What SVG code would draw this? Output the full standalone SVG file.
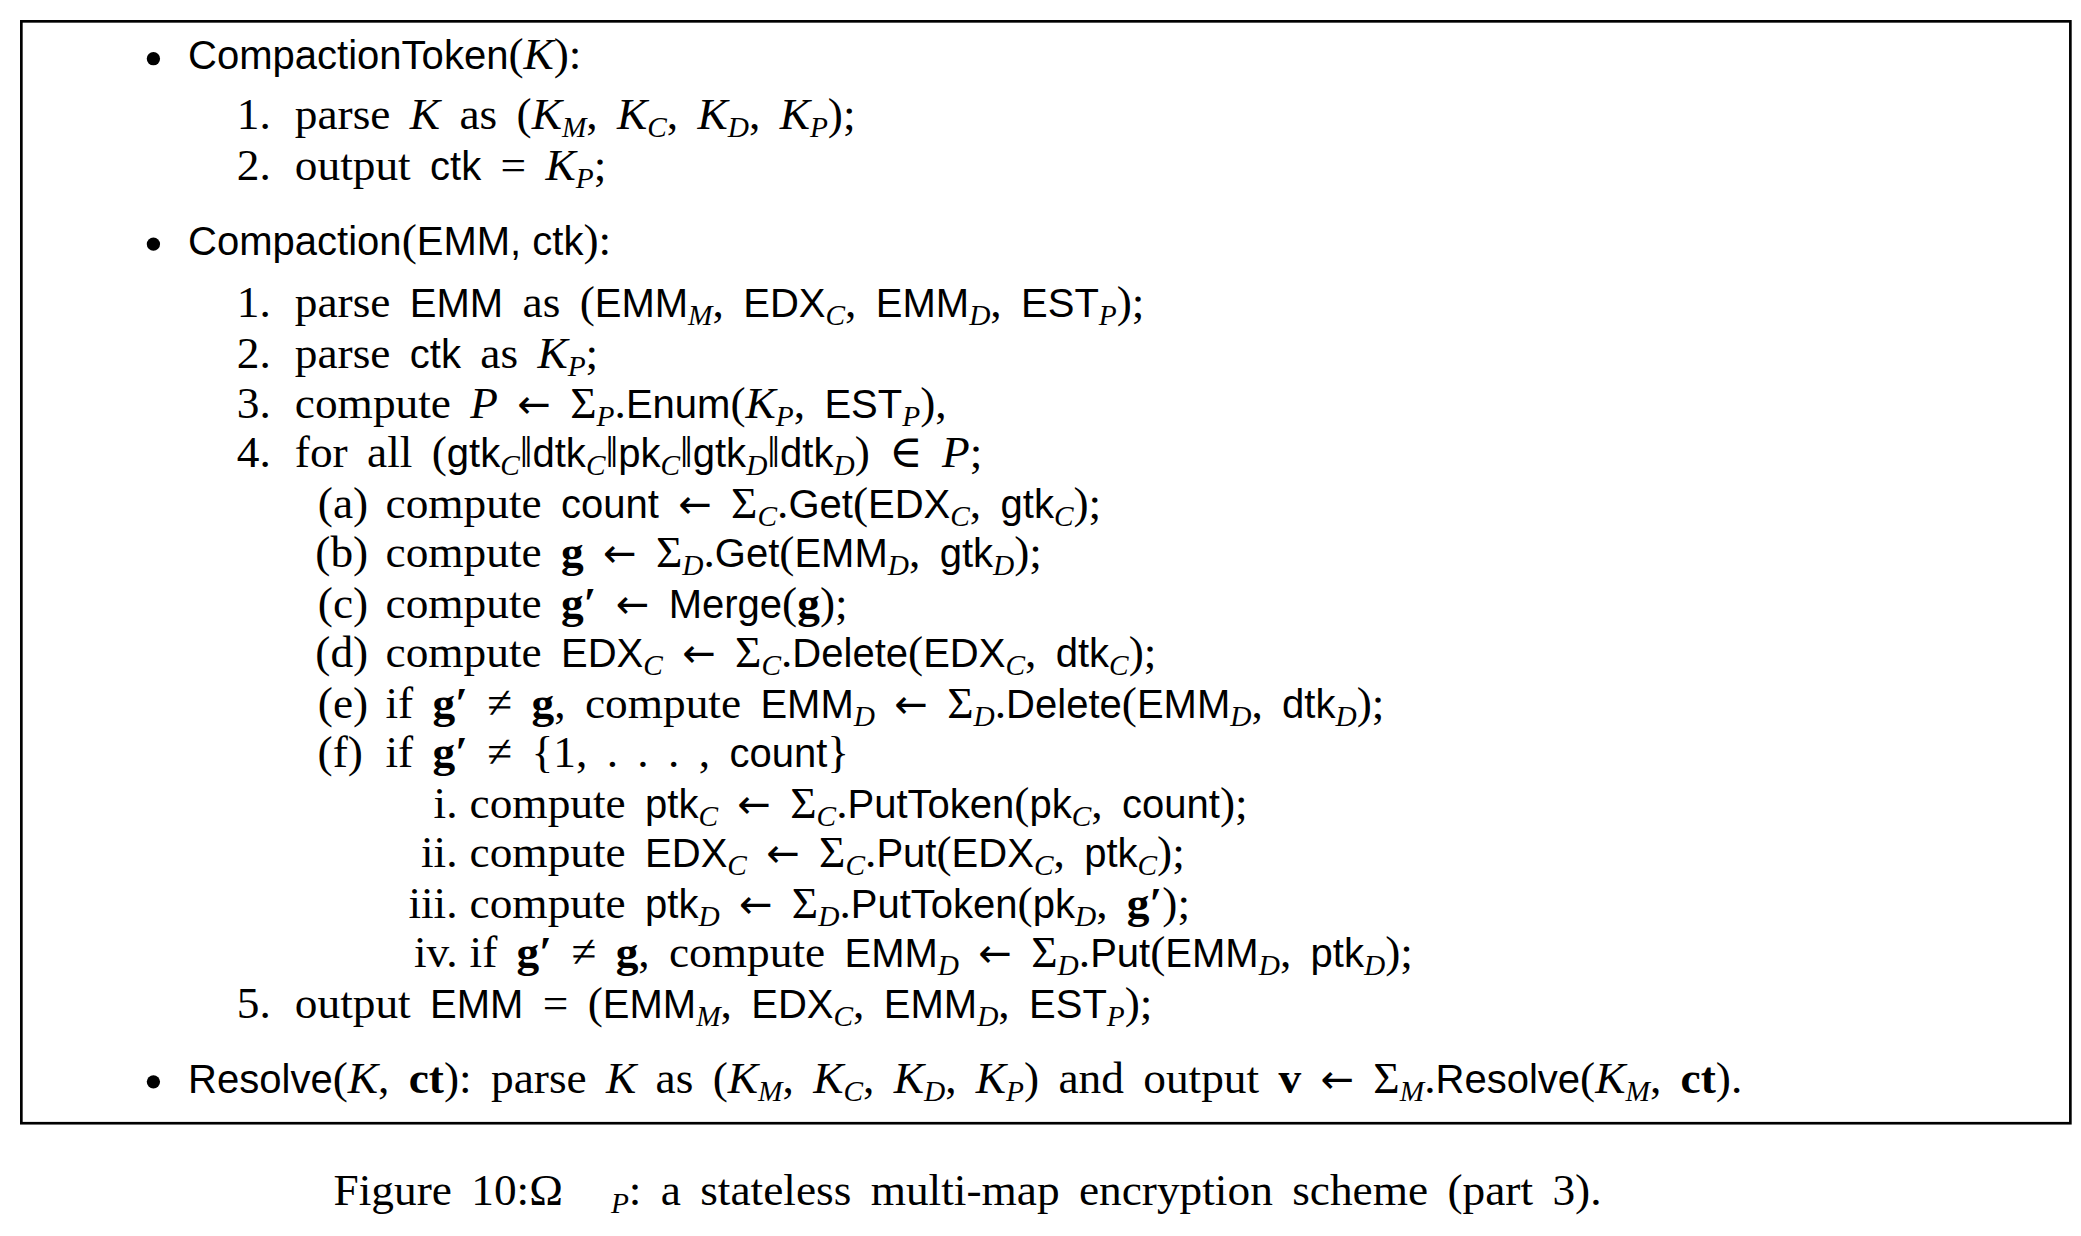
<svg xmlns="http://www.w3.org/2000/svg" width="2081" height="1236" viewBox="0 0 2081 1236">
<style>
text{font-family:"Liberation Serif","DejaVu Serif",serif;font-size:34px;fill:#000;word-spacing:6px}
.s{font-family:"Liberation Sans","DejaVu Sans",sans-serif;font-size:30px;word-spacing:0}
.i{font-style:italic}
.b{font-weight:bold}
.a{font-family:"DejaVu Sans",sans-serif;font-size:30px}
.sub{font-size:22px;baseline-shift:-6px;font-style:italic}
.n{text-anchor:end;word-spacing:0}
</style>
<rect width="2081" height="1236" fill="#fff"/>
<g transform="scale(1.334)">
<rect id="frame" x="16" y="16" width="1536" height="826" fill="none" stroke="#000" stroke-width="2"/>
<g id="bullets">
<circle cx="115" cy="44" r="5"/><circle cx="115" cy="183" r="5"/><circle cx="115" cy="811" r="5"/>
</g>
<g id="ctoken">
<text x="141" y="52"><tspan class="s">CompactionToken</tspan>(<tspan class="i">K</tspan>):</text>
<text class="n" x="203" y="97">1.</text>
<text x="221" y="97">parse <tspan class="i">K</tspan> as (<tspan class="i">K</tspan><tspan class="sub">M</tspan>, <tspan class="i">K</tspan><tspan class="sub">C</tspan>, <tspan class="i">K</tspan><tspan class="sub">D</tspan>, <tspan class="i">K</tspan><tspan class="sub">P</tspan>);</text>
<text class="n" x="203" y="135">2.</text>
<text x="221" y="135">output <tspan class="s">ctk</tspan> = <tspan class="i">K</tspan><tspan class="sub">P</tspan>;</text>
</g>
<g id="compaction">
<text x="141" y="191"><tspan class="s">Compaction</tspan>(<tspan class="s">EMM, ctk</tspan>):</text>
<text class="n" x="203" y="238">1.</text>
<text x="221" y="238">parse <tspan class="s">EMM</tspan> as (<tspan class="s">EMM</tspan><tspan class="sub">M</tspan>, <tspan class="s">EDX</tspan><tspan class="sub">C</tspan>, <tspan class="s">EMM</tspan><tspan class="sub">D</tspan>, <tspan class="s">EST</tspan><tspan class="sub">P</tspan>);</text>
<text class="n" x="203" y="276">2.</text>
<text x="221" y="276">parse <tspan class="s">ctk</tspan> as <tspan class="i">K</tspan><tspan class="sub">P</tspan>;</text>
<text class="n" x="203" y="313">3.</text>
<text x="221" y="313">compute <tspan class="i">P</tspan> <tspan class="a">←</tspan> Σ<tspan class="sub">P</tspan>.<tspan class="s">Enum</tspan>(<tspan class="i">K</tspan><tspan class="sub">P</tspan>, <tspan class="s">EST</tspan><tspan class="sub">P</tspan>),</text>
<text class="n" x="203" y="350">4.</text>
<text x="221" y="350">for all (<tspan class="s">gtk</tspan><tspan class="sub">C</tspan>‖<tspan class="s">dtk</tspan><tspan class="sub">C</tspan>‖<tspan class="s">pk</tspan><tspan class="sub">C</tspan>‖<tspan class="s">gtk</tspan><tspan class="sub">D</tspan>‖<tspan class="s">dtk</tspan><tspan class="sub">D</tspan>) ∈ <tspan class="i">P</tspan>;</text>
<text class="n" x="276" y="388">(a)</text>
<text x="289" y="388">compute <tspan class="s">count</tspan> <tspan class="a">←</tspan> Σ<tspan class="sub">C</tspan>.<tspan class="s">Get</tspan>(<tspan class="s">EDX</tspan><tspan class="sub">C</tspan>, <tspan class="s">gtk</tspan><tspan class="sub">C</tspan>);</text>
<text class="n" x="276" y="425">(b)</text>
<text x="289" y="425">compute <tspan class="b">g</tspan> <tspan class="a">←</tspan> Σ<tspan class="sub">D</tspan>.<tspan class="s">Get</tspan>(<tspan class="s">EMM</tspan><tspan class="sub">D</tspan>, <tspan class="s">gtk</tspan><tspan class="sub">D</tspan>);</text>
<text class="n" x="276" y="463">(c)</text>
<text x="289" y="463">compute <tspan class="b">g′</tspan> <tspan class="a">←</tspan> <tspan class="s">Merge</tspan>(<tspan class="b">g</tspan>);</text>
<text class="n" x="276" y="500">(d)</text>
<text x="289" y="500">compute <tspan class="s">EDX</tspan><tspan class="sub">C</tspan> <tspan class="a">←</tspan> Σ<tspan class="sub">C</tspan>.<tspan class="s">Delete</tspan>(<tspan class="s">EDX</tspan><tspan class="sub">C</tspan>, <tspan class="s">dtk</tspan><tspan class="sub">C</tspan>);</text>
<text class="n" x="276" y="538">(e)</text>
<text x="289" y="538">if <tspan class="b">g′</tspan> ≠ <tspan class="b">g</tspan>, compute <tspan class="s">EMM</tspan><tspan class="sub">D</tspan> <tspan class="a">←</tspan> Σ<tspan class="sub">D</tspan>.<tspan class="s">Delete</tspan>(<tspan class="s">EMM</tspan><tspan class="sub">D</tspan>, <tspan class="s">dtk</tspan><tspan class="sub">D</tspan>);</text>
<text class="n" x="272" y="575">(f)</text>
<text x="289" y="575">if <tspan class="b">g′</tspan> ≠ {1, . . . , <tspan class="s">count</tspan>}</text>
<text class="n" x="343" y="613">i.</text>
<text x="352" y="613">compute <tspan class="s">ptk</tspan><tspan class="sub">C</tspan> <tspan class="a">←</tspan> Σ<tspan class="sub">C</tspan>.<tspan class="s">PutToken</tspan>(<tspan class="s">pk</tspan><tspan class="sub">C</tspan>, <tspan class="s">count</tspan>);</text>
<text class="n" x="343" y="650">ii.</text>
<text x="352" y="650">compute <tspan class="s">EDX</tspan><tspan class="sub">C</tspan> <tspan class="a">←</tspan> Σ<tspan class="sub">C</tspan>.<tspan class="s">Put</tspan>(<tspan class="s">EDX</tspan><tspan class="sub">C</tspan>, <tspan class="s">ptk</tspan><tspan class="sub">C</tspan>);</text>
<text class="n" x="343" y="688">iii.</text>
<text x="352" y="688">compute <tspan class="s">ptk</tspan><tspan class="sub">D</tspan> <tspan class="a">←</tspan> Σ<tspan class="sub">D</tspan>.<tspan class="s">PutToken</tspan>(<tspan class="s">pk</tspan><tspan class="sub">D</tspan>, <tspan class="b">g′</tspan>);</text>
<text class="n" x="343" y="725">iv.</text>
<text x="352" y="725">if <tspan class="b">g′</tspan> ≠ <tspan class="b">g</tspan>, compute <tspan class="s">EMM</tspan><tspan class="sub">D</tspan> <tspan class="a">←</tspan> Σ<tspan class="sub">D</tspan>.<tspan class="s">Put</tspan>(<tspan class="s">EMM</tspan><tspan class="sub">D</tspan>, <tspan class="s">ptk</tspan><tspan class="sub">D</tspan>);</text>
<text class="n" x="203" y="763">5.</text>
<text x="221" y="763">output <tspan class="s">EMM</tspan> = (<tspan class="s">EMM</tspan><tspan class="sub">M</tspan>, <tspan class="s">EDX</tspan><tspan class="sub">C</tspan>, <tspan class="s">EMM</tspan><tspan class="sub">D</tspan>, <tspan class="s">EST</tspan><tspan class="sub">P</tspan>);</text>
</g>
<g id="resolve">
<text x="141" y="819"><tspan class="s">Resolve</tspan>(<tspan class="i">K</tspan>, <tspan class="b">ct</tspan>): parse <tspan class="i">K</tspan> as (<tspan class="i">K</tspan><tspan class="sub">M</tspan>, <tspan class="i">K</tspan><tspan class="sub">C</tspan>, <tspan class="i">K</tspan><tspan class="sub">D</tspan>, <tspan class="i">K</tspan><tspan class="sub">P</tspan>) and output <tspan class="b">v</tspan> <tspan class="a">←</tspan> Σ<tspan class="sub">M</tspan>.<tspan class="s">Resolve</tspan>(<tspan class="i">K</tspan><tspan class="sub">M</tspan>, <tspan class="b">ct</tspan>).</text>
</g>
<g id="caption">
<text x="250" y="903" font-size="40" word-spacing="5">Figure 10:Ω<tspan dx="36" class="sub">P</tspan>: a stateless multi-map encryption scheme (part 3).</text>
</g>
</g>
</svg>
